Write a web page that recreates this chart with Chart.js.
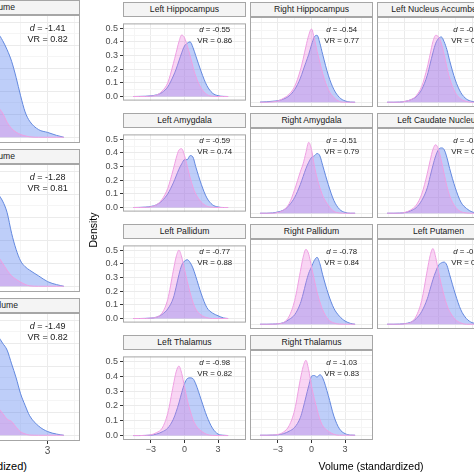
<!DOCTYPE html>
<html>
<head>
<meta charset="utf-8">
<script src="https://cdn.jsdelivr.net/npm/chart.js@4.4.1/dist/chart.umd.min.js"></script>
<style>
    body { margin: 0; width: 474px; height: 474px; overflow: hidden; background: #fff; position: relative; font-family: "Liberation Sans", Arial, sans-serif; }
    canvas { position: absolute; }
    .strip { position: absolute; box-sizing: border-box; border: 1px solid #a6a6a6; background: #f4f4f4; color: #1a1a1a; font-size: 8.6px; text-align: center; line-height: 13px; overflow: hidden; white-space: nowrap; }
    .strip span { position: absolute; top: 0; }
    .note { position: absolute; color: #1a1a1a; white-space: nowrap; transform: translateX(-50%); line-height: 1; }
    .title { position: absolute; color: #000; white-space: nowrap; font-size: 10.5px; line-height: 1; }
</style>
</head>
<body>
<script>
// Shared x grid for the regional densities (Volume, standardized)
const xsRegion = [-4.6, -4, -3.5, -3, -2.5, -2, -1.5, -1, -0.75, -0.5, -0.25, 0, 0.25, 0.5, 0.75, 1, 1.5, 2, 2.5, 3, 3.5, 3.9];
// x grid for the total volume panels on the left
const xsTotal = [-3, -2, -1, -0.5, 0, 0.25, 0.5, 0.75, 1, 1.25, 1.5, 1.75, 2, 2.5, 3, 3.5, 3.9];

const xTickValues = [-3, 0, 3];
const xTickLabels = ['\u22123', '0', '3'];
const yTickValues = [0, 0.1, 0.2, 0.3, 0.4, 0.5];
const yTickLabels = ['0.0', '0.1', '0.2', '0.3', '0.4', '0.5'];
const xGridValues = [-4.5, -3, -1.5, 0, 1.5, 3, 4.5];
const yGridValues = [0, 0.05, 0.1, 0.15, 0.2, 0.25, 0.3, 0.35, 0.4, 0.45, 0.5];

// Regional panels
const regionNames = ['Left Hippocampus', 'Right Hippocampus', 'Left Nucleus Accumbens',
    'Left Amygdala', 'Right Amygdala', 'Left Caudate Nucleus',
    'Left Pallidum', 'Right Pallidum', 'Left Putamen',
    'Left Thalamus', 'Right Thalamus'];
const regionD = ['-0.55', '-0.54', '-0.47', '-0.59', '-0.51', '-0.46', '-0.77', '-0.78', '-0.81', '-0.98', '-1.03'];
const regionVR = ['0.86', '0.77', '0.84', '0.74', '0.79', '0.81', '0.88', '0.84', '0.80', '0.82', '0.83'];

const leftHippocampusPink  = [0, 0, 0, 0.003, 0.01, 0.04, 0.10, 0.24, 0.32, 0.40, 0.45, 0.43, 0.37, 0.30, 0.22, 0.15, 0.06, 0.015, 0.002, 0, 0, 0];
const leftHippocampusBlue  = [0, 0.001, 0.002, 0.005, 0.012, 0.03, 0.07, 0.15, 0.20, 0.26, 0.32, 0.37, 0.39, 0.40, 0.36, 0.30, 0.18, 0.08, 0.025, 0.006, 0.001, 0];
const rightHippocampusPink = [0, 0, 0.002, 0.008, 0.025, 0.05, 0.10, 0.20, 0.27, 0.35, 0.42, 0.46, 0.40, 0.32, 0.25, 0.18, 0.08, 0.03, 0.005, 0, 0, 0];
const rightHippocampusBlue = [0.001, 0.003, 0.006, 0.01, 0.02, 0.04, 0.08, 0.15, 0.20, 0.25, 0.30, 0.36, 0.41, 0.42, 0.37, 0.30, 0.17, 0.08, 0.03, 0.008, 0.001, 0];
const leftAccumbensPink    = [0, 0, 0, 0.005, 0.015, 0.04, 0.10, 0.22, 0.30, 0.38, 0.42, 0.41, 0.37, 0.30, 0.22, 0.15, 0.06, 0.02, 0.005, 0, 0, 0];
const leftAccumbensBlue    = [0, 0, 0.001, 0.005, 0.015, 0.035, 0.08, 0.17, 0.24, 0.31, 0.37, 0.40, 0.41, 0.38, 0.33, 0.26, 0.14, 0.06, 0.02, 0.005, 0.001, 0];
const leftAmygdalaPink     = [0, 0, 0.001, 0.005, 0.02, 0.06, 0.14, 0.28, 0.36, 0.42, 0.43, 0.38, 0.30, 0.22, 0.15, 0.10, 0.04, 0.01, 0.002, 0, 0, 0];
const leftAmygdalaBlue     = [0, 0.001, 0.003, 0.008, 0.02, 0.05, 0.10, 0.18, 0.23, 0.28, 0.32, 0.35, 0.35, 0.38, 0.37, 0.30, 0.17, 0.07, 0.02, 0.004, 0, 0];
const rightAmygdalaPink    = [0, 0, 0, 0.005, 0.02, 0.06, 0.15, 0.26, 0.31, 0.38, 0.445, 0.40, 0.30, 0.22, 0.16, 0.11, 0.05, 0.012, 0.002, 0, 0, 0];
const rightAmygdalaBlue    = [0, 0, 0.002, 0.008, 0.02, 0.05, 0.10, 0.18, 0.23, 0.28, 0.32, 0.35, 0.36, 0.375, 0.36, 0.30, 0.18, 0.08, 0.025, 0.005, 0, 0];
const leftCaudatePink      = [0, 0, 0, 0.005, 0.02, 0.05, 0.12, 0.25, 0.33, 0.40, 0.43, 0.40, 0.33, 0.25, 0.17, 0.11, 0.04, 0.01, 0.002, 0, 0, 0];
const leftCaudateBlue      = [0, 0, 0.001, 0.004, 0.015, 0.035, 0.08, 0.16, 0.23, 0.30, 0.36, 0.40, 0.41, 0.40, 0.35, 0.28, 0.16, 0.07, 0.03, 0.008, 0.001, 0];
const leftPallidumPink     = [0, 0, 0, 0.003, 0.01, 0.04, 0.14, 0.35, 0.45, 0.50, 0.45, 0.36, 0.27, 0.19, 0.12, 0.07, 0.025, 0.006, 0, 0, 0, 0];
const leftPallidumBlue     = [0, 0, 0.001, 0.003, 0.01, 0.03, 0.07, 0.15, 0.23, 0.32, 0.39, 0.42, 0.43, 0.41, 0.37, 0.31, 0.18, 0.08, 0.04, 0.02, 0.004, 0];
const rightPallidumPink    = [0, 0, 0, 0.003, 0.01, 0.05, 0.15, 0.33, 0.42, 0.47, 0.44, 0.36, 0.28, 0.20, 0.14, 0.09, 0.03, 0.008, 0.001, 0, 0, 0];
const rightPallidumBlue    = [0, 0, 0.001, 0.003, 0.01, 0.03, 0.06, 0.13, 0.19, 0.26, 0.32, 0.36, 0.40, 0.42, 0.38, 0.31, 0.19, 0.10, 0.05, 0.02, 0.005, 0];
const leftPutamenPink      = [0, 0, 0, 0.003, 0.01, 0.05, 0.15, 0.34, 0.43, 0.475, 0.42, 0.33, 0.25, 0.18, 0.12, 0.08, 0.03, 0.008, 0, 0, 0, 0];
const leftPutamenBlue      = [0, 0, 0.001, 0.004, 0.012, 0.035, 0.08, 0.16, 0.22, 0.28, 0.33, 0.37, 0.385, 0.39, 0.37, 0.31, 0.19, 0.09, 0.035, 0.01, 0.002, 0];
const leftThalamusPink     = [0, 0, 0.001, 0.005, 0.02, 0.05, 0.15, 0.34, 0.43, 0.47, 0.42, 0.33, 0.24, 0.17, 0.11, 0.07, 0.03, 0.008, 0.001, 0, 0, 0];
const leftThalamusBlue     = [0, 0, 0.001, 0.003, 0.01, 0.025, 0.05, 0.11, 0.16, 0.22, 0.29, 0.35, 0.385, 0.39, 0.385, 0.35, 0.24, 0.13, 0.05, 0.01, 0.002, 0];
const rightThalamusPink    = [0, 0, 0.001, 0.005, 0.02, 0.06, 0.16, 0.35, 0.43, 0.47, 0.41, 0.31, 0.23, 0.16, 0.10, 0.06, 0.025, 0.006, 0, 0, 0, 0];
const rightThalamusBlue    = [0, 0, 0.001, 0.003, 0.01, 0.025, 0.05, 0.11, 0.17, 0.24, 0.31, 0.37, 0.375, 0.365, 0.38, 0.36, 0.25, 0.12, 0.04, 0.01, 0.001, 0];

const regionPink = [leftHippocampusPink, rightHippocampusPink, leftAccumbensPink, leftAmygdalaPink, rightAmygdalaPink,
    leftCaudatePink, leftPallidumPink, rightPallidumPink, leftPutamenPink, leftThalamusPink, rightThalamusPink];
const regionBlue = [leftHippocampusBlue, rightHippocampusBlue, leftAccumbensBlue, leftAmygdalaBlue, rightAmygdalaBlue,
    leftCaudateBlue, leftPallidumBlue, rightPallidumBlue, leftPutamenBlue, leftThalamusBlue, rightThalamusBlue];

// Total volume panels (cut off at the left edge)
const totalNames = ['Intracranial Volume', 'Gray Matter Volume', 'White Matter Volume'];
const totalD = ['-1.41', '-1.28', '-1.49'];
const totalVR = ['0.82', '0.81', '0.82'];
const totalOnePink  = [0.02, 0.2, 0.3, 0.22, 0.15, 0.13, 0.105, 0.065, 0.038, 0.022, 0.012, 0.006, 0.002, 0, 0, 0, 0];
const totalOneBlue  = [0.02, 0.12, 0.35, 0.44, 0.46, 0.45, 0.42, 0.38, 0.33, 0.26, 0.18, 0.11, 0.07, 0.033, 0.021, 0.008, 0];
const totalTwoPink  = [0.03, 0.22, 0.33, 0.25, 0.16, 0.13, 0.10, 0.07, 0.045, 0.03, 0.018, 0.008, 0.002, 0, 0, 0, 0];
const totalTwoBlue  = [0.02, 0.12, 0.33, 0.42, 0.42, 0.40, 0.37, 0.32, 0.23, 0.16, 0.11, 0.085, 0.07, 0.045, 0.02, 0.007, 0];
const totalThreePink = [0.03, 0.2, 0.3, 0.22, 0.14, 0.12, 0.095, 0.07, 0.06, 0.035, 0.015, 0.006, 0.001, 0, 0, 0, 0];
const totalThreeBlue = [0.02, 0.12, 0.36, 0.45, 0.45, 0.43, 0.40, 0.37, 0.31, 0.25, 0.18, 0.13, 0.085, 0.04, 0.016, 0.005, 0];
const totalPink = [totalOnePink, totalTwoPink, totalThreePink];
const totalBlue = [totalOneBlue, totalTwoBlue, totalThreeBlue];

// Styles
const pinkLine = 'rgba(238, 160, 226, 1)';
const pinkFill = 'rgba(235, 125, 220, 0.32)';
const blueLine = 'rgba(98, 136, 222, 1)';
const blueFill = 'rgba(85, 125, 240, 0.38)';
const gridMajor = '#ebebeb';
const gridMinor = '#f5f5f5';
const panelBorder = '#a6a6a6';

function near(a, b) { return Math.abs(a - b) < 1e-6; }
function isMajorX(v) { return xTickValues.some(t => near(t, v)); }
function isMajorY(v) { return yTickValues.some(t => near(t, v)); }

const borderPlugin = {
    id: 'panelBorder',
    afterDraw(chart) {
        const a = chart.chartArea;
        const ctx = chart.ctx;
        ctx.save();
        ctx.strokeStyle = panelBorder;
        ctx.lineWidth = 1;
        ctx.strokeRect(a.left + 0.5, a.top + 0.5, a.right - a.left - 1, a.bottom - a.top - 1);
        ctx.restore();
    }
};

function addDiv(cls, html, style) {
    const el = document.createElement('div');
    el.className = cls;
    el.innerHTML = html;
    Object.assign(el.style, style);
    document.body.appendChild(el);
    return el;
}

function makePanel(p) {
    const padL = p.showY ? 23 : 0;
    const padB = p.showX ? p.xAxisH : 0;
    const cv = document.createElement('canvas');
    cv.width = padL + p.w + 1;
    cv.height = p.h + padB + 2;
    cv.style.left = (p.left - padL) + 'px';
    cv.style.top = (p.top - 1) + 'px';
    document.body.appendChild(cv);

    new Chart(cv.getContext('2d'), {
        type: 'line',
        data: {
            datasets: [
                {
                    data: p.xs.map((x, i) => ({ x: x, y: p.pink[i] })),
                    borderColor: pinkLine, backgroundColor: pinkFill, fill: 'origin',
                    borderWidth: 1, pointRadius: 0, cubicInterpolationMode: 'monotone'
                },
                {
                    data: p.xs.map((x, i) => ({ x: x, y: p.blue[i] })),
                    borderColor: blueLine, backgroundColor: blueFill, fill: 'origin',
                    borderWidth: 1, pointRadius: 0, cubicInterpolationMode: 'monotone'
                }
            ]
        },
        options: {
            responsive: false,
            animation: false,
            devicePixelRatio: 1,
            events: [],
            layout: { padding: { top: 1, right: 1, left: 0, bottom: 1 } },
            plugins: { legend: { display: false }, tooltip: { enabled: false } },
            scales: {
                x: {
                    type: 'linear', min: p.xMin, max: p.xMax,
                    border: { display: false },
                    afterBuildTicks: s => { s.ticks = xGridValues.map(v => ({ value: v })); },
                    afterFit: s => { s.height = padB; },
                    grid: {
                        color: c => isMajorX(c.tick.value) ? gridMajor : gridMinor,
                        drawTicks: p.showX, tickLength: 3,
                        tickColor: c => isMajorX(c.tick.value) ? '#333' : 'rgba(0,0,0,0)'
                    },
                    ticks: {
                        display: p.showX, autoSkip: false, maxRotation: 0, padding: 1,
                        color: '#4d4d4d', font: { family: 'Liberation Sans', size: p.tickSize },
                        callback: v => {
                            const k = xTickValues.findIndex(t => near(t, v));
                            return k >= 0 ? xTickLabels[k] : '';
                        }
                    }
                },
                y: {
                    type: 'linear', min: p.yMin, max: p.yMax,
                    border: { display: false },
                    afterBuildTicks: s => { s.ticks = yGridValues.map(v => ({ value: v })); },
                    afterFit: s => { s.width = padL; },
                    grid: {
                        color: c => isMajorY(c.tick.value) ? gridMajor : gridMinor,
                        drawTicks: p.showY, tickLength: 3,
                        tickColor: c => isMajorY(c.tick.value) ? '#333' : 'rgba(0,0,0,0)'
                    },
                    ticks: {
                        display: p.showY, autoSkip: false, padding: 2,
                        color: '#4d4d4d', font: { family: 'Liberation Sans', size: 9 },
                        callback: v => {
                            const k = yTickValues.findIndex(t => near(t, v));
                            return k >= 0 ? yTickLabels[k] : '';
                        }
                    }
                }
            }
        },
        plugins: [borderPlugin]
    });
}

// Regional grid layout: 3 columns, 4 rows
const colLeft = [123, 250, 377];
const rowTop = [17, 128, 239, 350];
const panelW = 123, panelH = 90, stripH = 15;
const xMinR = -5.5, xMaxR = 5.5, yMinR = -0.03, yMaxR = 0.535;

regionNames.forEach((name, i) => {
    const col = i % 3, row = Math.floor(i / 3);
    const left = colLeft[col], top = rowTop[row];
    makePanel({
        left: left, top: top, w: panelW, h: panelH,
        xMin: xMinR, xMax: xMaxR, yMin: yMinR, yMax: yMaxR,
        xs: xsRegion, pink: regionPink[i], blue: regionBlue[i],
        showY: col === 0, showX: row === 3, xAxisH: 15, tickSize: 9
    });
    addDiv('strip', name, {
        left: left + 'px', top: (top - stripH) + 'px',
        width: panelW + 'px', height: stripH + 'px'
    });
    const cx = left + panelW * (2.7 - xMinR) / (xMaxR - xMinR);
    addDiv('note', '<i>d</i> = ' + regionD[i], { left: cx + 'px', top: (top + 8.5) + 'px', fontSize: '7.8px' });
    addDiv('note', 'VR = ' + regionVR[i], { left: cx + 'px', top: (top + 19.5) + 'px', fontSize: '7.8px' });
});

// Total volume column (mostly outside the picture)
const totalRight = 80, totalW = 198, totalH = 128;
const totalTop = [15, 164, 313];
const xMinT = -6.2, xMaxT = 4.8, yMinT = -0.025, yMaxT = 0.531;
const stripTextRight = [64, 64, 61];

totalNames.forEach((name, i) => {
    const left = totalRight - totalW, top = totalTop[i];
    makePanel({
        left: left, top: top, w: totalW, h: totalH,
        xMin: xMinT, xMax: xMaxT, yMin: yMinT, yMax: yMaxT,
        xs: xsTotal, pink: totalPink[i], blue: totalBlue[i],
        showY: false, showX: i === 2, xAxisH: 16, tickSize: 10
    });
    addDiv('strip', '<span style="right:' + stripTextRight[i] + 'px">' + name + '</span>', {
        left: left + 'px', top: (top - stripH) + 'px',
        width: totalW + 'px', height: stripH + 'px'
    });
    const cx = left + totalW * (3 - xMinT) / (xMaxT - xMinT);
    addDiv('note', '<i>d</i> = ' + totalD[i], { left: cx + 'px', top: (top + 8.5) + 'px', fontSize: '9px' });
    addDiv('note', 'VR = ' + totalVR[i], { left: cx + 'px', top: (top + 19.5) + 'px', fontSize: '9px' });
});

// Axis titles
addDiv('title', 'Density', { left: '93px', top: '230px', transform: 'translate(-50%, -50%) rotate(-90deg)' });
addDiv('title', 'Volume (standardized)', { left: '371px', top: '461px', transform: 'translateX(-50%)' });
addDiv('title', 'Volume (standardized)', { right: '447px', top: '461px', fontSize: '11px' });
</script>
</body>
</html>
